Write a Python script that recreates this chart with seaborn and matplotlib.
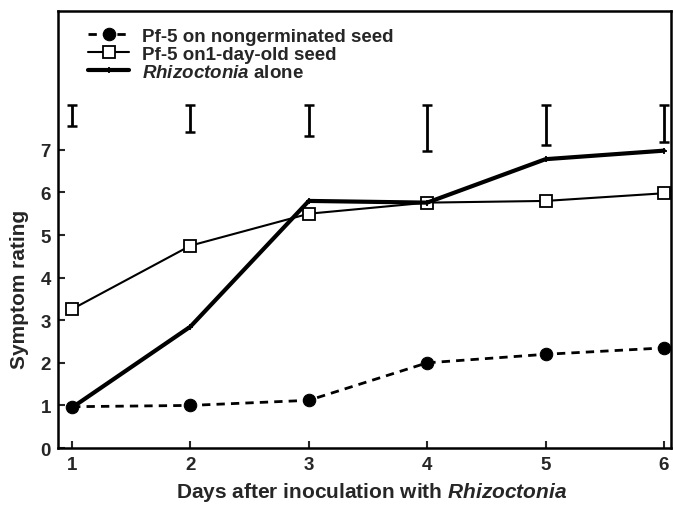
import matplotlib
matplotlib.use("Agg")
import matplotlib.pyplot as plt
import seaborn as sns
import pandas as pd
import numpy as np

days = [1, 2, 3, 4, 5, 6]
nongerminated = [0.97, 1.0, 1.12, 2.0, 2.2, 2.35]
one_day_old = [3.26, 4.75, 5.5, 5.76, 5.8, 5.98]
rhizoctonia_alone = [0.95, 2.85, 5.8, 5.76, 6.78, 6.98]
lsd_top = 8.05
lsd_lengths = [0.5, 0.63, 0.73, 1.07, 0.93, 0.86]
y_ticks = [0, 1, 2, 3, 4, 5, 6, 7]

labels = ["Pf-5 on nongerminated seed", "Pf-5 on1-day-old seed",
          r"$\mathit{Rhizoctonia}$ alone"]

sns.set_style("ticks")
plt.rcParams["font.family"] = ["Liberation Sans", "DejaVu Sans"]
plt.rcParams["font.weight"] = "bold"
plt.rcParams["mathtext.fontset"] = "custom"
plt.rcParams["mathtext.it"] = "Liberation Sans:italic:bold"
plt.rcParams["mathtext.rm"] = "Liberation Sans:bold"

df = pd.DataFrame({
    "day": days * 3,
    "rating": nongerminated + one_day_old + rhizoctonia_alone,
    "series": [labels[0]] * 6 + [labels[1]] * 6 + [labels[2]] * 6,
})

fig = plt.figure(figsize=(6.73, 5.06), dpi=100)
ax = fig.add_axes([0.086, 0.1126, 0.911, 0.863])

sns.lineplot(data=df[df.series == labels[0]], x="day", y="rating", ax=ax,
             color="black", linestyle=(0, (3.0, 2.2)), linewidth=2.0,
             marker="o", markersize=9, markerfacecolor="black",
             markeredgecolor="black", label=labels[0])
sns.lineplot(data=df[df.series == labels[1]], x="day", y="rating", ax=ax,
             color="black", linewidth=1.5, marker="s", markersize=8,
             markerfacecolor="white", markeredgecolor="black",
             markeredgewidth=1.3, label=labels[1])
sns.lineplot(data=df[df.series == labels[2]], x="day", y="rating", ax=ax,
             color="black", linewidth=3.0, marker="+", markersize=5,
             markeredgewidth=1.3, markeredgecolor="black",
             markerfacecolor="black", label=labels[2])

half = np.array(lsd_lengths) / 2
ax.errorbar(days, lsd_top - half, yerr=half, fmt="none", ecolor="black",
            elinewidth=2.0, capsize=3.5, capthick=1.8)

ax.set_xlim(0.88, 6.06)
ax.set_ylim(0, 10.25)
ax.set_yticks(y_ticks)
ax.set_xticks(days)
ax.tick_params(direction="in", length=5, width=1.5, labelsize=13.5)
ax.tick_params(axis="x", pad=6)
ax.tick_params(axis="y", pad=5)
for lab in ax.get_xticklabels() + ax.get_yticklabels():
    lab.set_fontweight("bold")
for s in ax.spines.values():
    s.set_linewidth(1.8)
    s.set_color("black")

ax.set_xlabel(r"Days after inoculation with $\mathit{Rhizoctonia}$",
              fontsize=15, fontweight="bold")
ax.set_ylabel("Symptom rating", fontsize=15, fontweight="bold")
ax.xaxis.set_label_coords(0.512, -0.074)
ax.yaxis.set_label_coords(-0.047, 0.366)

leg = ax.legend(loc="upper left", bbox_to_anchor=(0.049, 0.963), frameon=False,
                fontsize=13.5, handlelength=2.2, handletextpad=0.7,
                labelspacing=0.05, borderaxespad=0.0, borderpad=0.0)
for t in leg.get_texts():
    t.set_fontweight("bold")

fig.savefig("out.png", dpi=100)
